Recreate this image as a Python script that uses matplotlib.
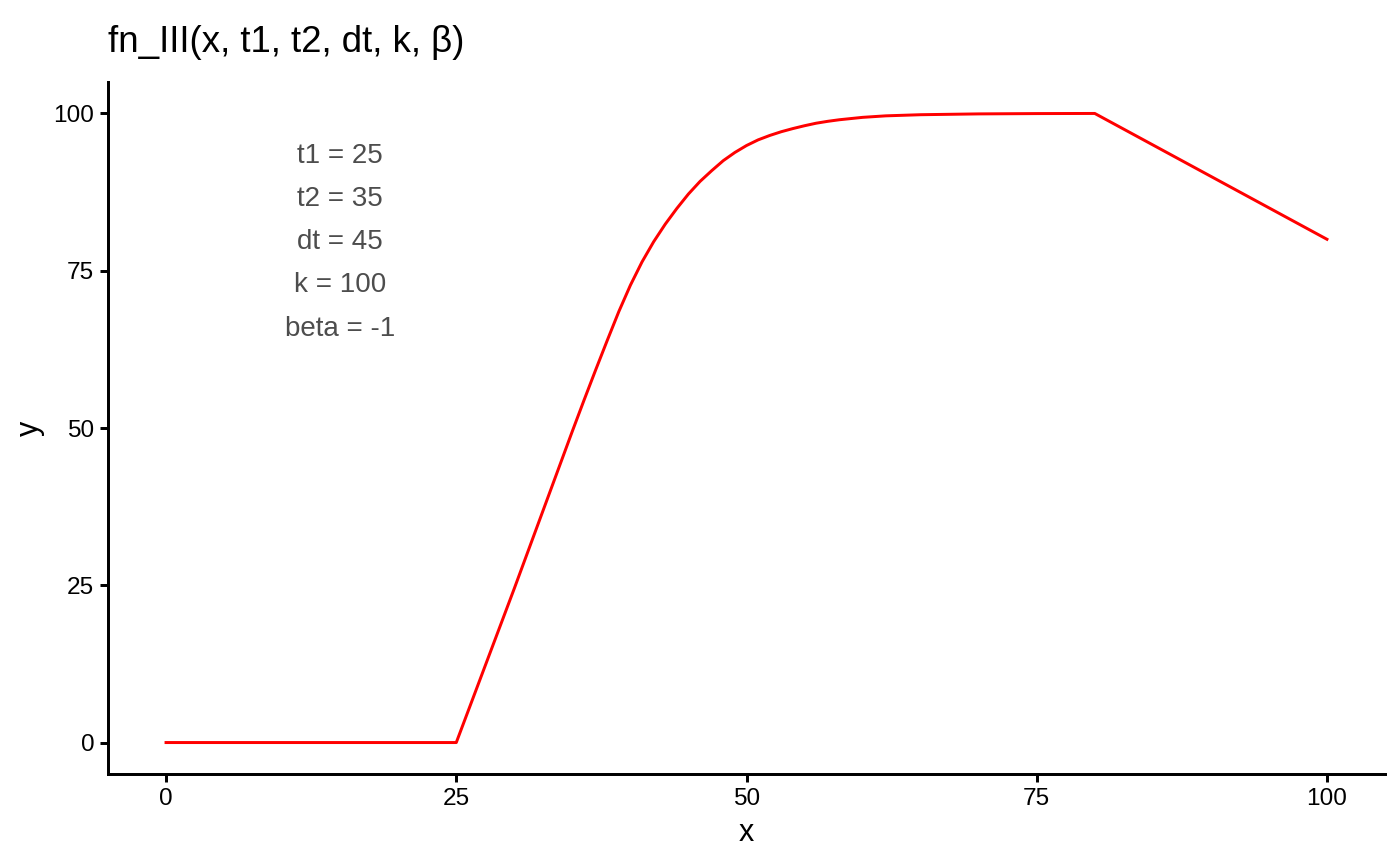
import matplotlib
matplotlib.use("Agg")
import matplotlib.pyplot as plt

plt.rcParams['font.family'] = ['Liberation Sans', 'DejaVu Sans']

# values
x_vals = [0, 25, 30, 35, 36, 37, 38, 39, 40, 41, 42, 43, 44, 45, 46, 47, 48, 49,
          50, 51, 52, 53, 54, 55, 56, 57, 58, 60, 62, 65, 70, 75, 80, 100]
y_vals = [0, 0, 24.5, 49.5, 54.4, 59.2, 63.9, 68.5, 72.7, 76.4, 79.6, 82.4, 84.9,
          87.2, 89.2, 90.9, 92.5, 93.8, 94.9, 95.8, 96.5, 97.1, 97.6, 98.05, 98.45,
          98.75, 99.0, 99.38, 99.62, 99.8, 99.93, 99.98, 100, 80]

param_labels = ["t1 = 25", "t2 = 35", "dt = 45", "k = 100", "beta = -1"]
x_ticks = [0, 25, 50, 75, 100]
y_ticks = [0, 25, 50, 75, 100]

fig = plt.figure(figsize=(7, 4.33), dpi=200)
ax = fig.add_axes([108/1400, 92/866, (1385-108)/1400, (774-82)/866])

ax.plot(x_vals, y_vals, color='red', linewidth=1.07)

label_y = [93.2, 86.4, 79.5, 72.7, 65.8]
for lab, yy in zip(param_labels, label_y):
    ax.text(15, yy, lab, ha='center', va='center', fontsize=10, color='#4D4D4D')

ax.set_xlim(-5, 105)
ax.set_ylim(-5, 105)
ax.set_xticks(x_ticks)
ax.set_yticks(y_ticks)
ax.tick_params(axis='both', labelsize=8.8, colors='black', length=2.75, width=1.07, pad=2.2)
for side in ['top', 'right']:
    ax.spines[side].set_visible(False)
for side in ['left', 'bottom']:
    ax.spines[side].set_linewidth(1.07)
    ax.spines[side].set_color('black')

ax.set_xlabel("x", fontsize=11, labelpad=3)
ax.set_ylabel("y", fontsize=11, labelpad=3)

fig.text(108/1400, 1 - 52/866, "fn_III(x, t1, t2, dt, k, β)", fontsize=13.2,
         ha='left', va='baseline')

fig.savefig("out.png", dpi=200)
